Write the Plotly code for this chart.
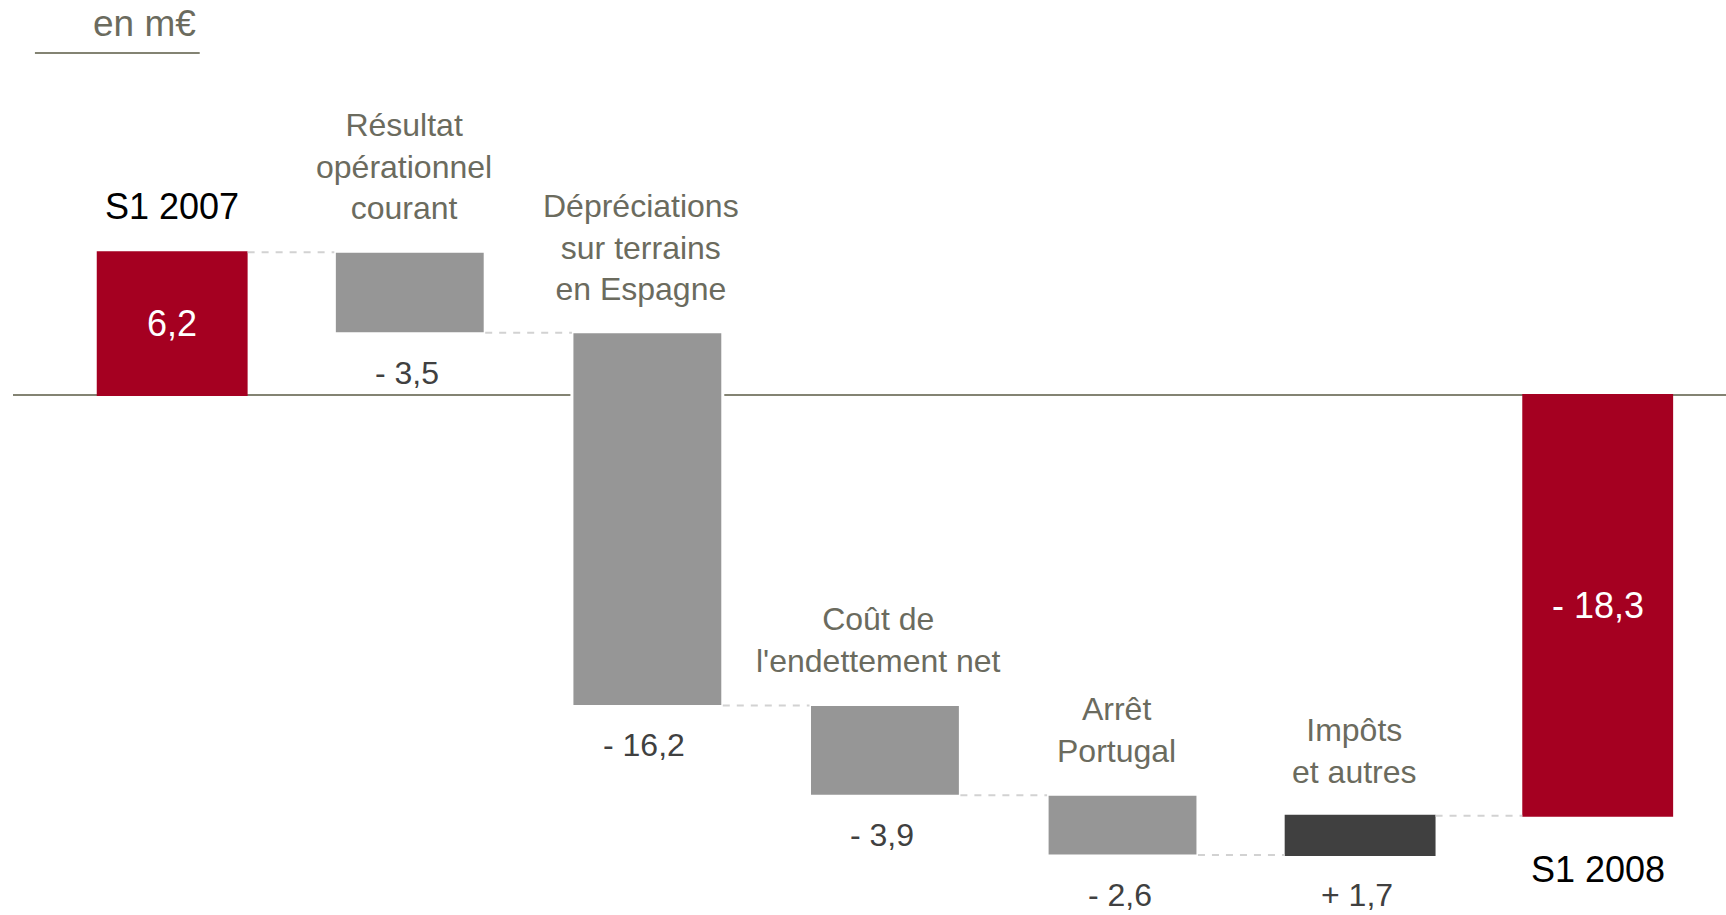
import numpy as np
import plotly.graph_objects as go

# ---- data ----
categories = ["S1 2007", "Résultat opérationnel courant", "Dépréciations sur terrains en Espagne",
              "Coût de l'endettement net", "Arrêt Portugal", "Impôts et autres", "S1 2008"]
cat_labels = ["S1 2007", "Résultat<br>opérationnel<br>courant", "Dépréciations<br>sur terrains<br>en Espagne",
              "Coût de<br>l'endettement net", "Arrêt<br>Portugal", "Impôts<br>et autres", "S1 2008"]
measures = ["absolute", "relative", "relative", "relative", "relative", "relative", "total"]
values = [6.2, -3.5, -16.2, -3.9, -2.6, 1.7, -18.3]
value_labels = ["6,2", "- 3,5", "- 16,2", "- 3,9", "- 2,6", "+ 1,7", "- 18,3"]

# ---- style ----
RED = "#A50021"
GREY = "#969696"
DARK = "#404040"
OLIVE = "#6B6B5E"
FONT = "Liberation Sans, Arial, sans-serif"

fig = go.Figure()
fig.add_trace(go.Waterfall(
    x=categories,
    y=[v if m != "total" else None for v, m in zip(values, measures)],
    measure=measures,
    width=0.635,
    increasing=dict(marker=dict(color=DARK)),
    decreasing=dict(marker=dict(color=GREY, line=dict(color="white", width=3))),
    totals=dict(marker=dict(color=RED)),
    connector=dict(mode="between", line=dict(color="#D2D2D2", width=2, dash="7px,7px")),
    textposition="none", hoverinfo="skip", showlegend=False,
))

# compute bar extents from the data
starts, ends = [], []
running = 0.0
for v, m in zip(values, measures):
    if m == "absolute":
        s, e = 0.0, v
        running = v
    elif m == "total":
        s, e = 0.0, running
    else:
        s, e = running, running + v
        running = e
    starts.append(s)
    ends.append(e)

annotations = []
for i, (cat, lab, s, e, m) in enumerate(zip(categories, cat_labels, starts, ends, measures)):
    top, bot = max(s, e), min(s, e)
    if m in ("absolute", "total"):
        annotations.append(dict(x=cat, y=(top + bot) / 2, text=value_labels[i], showarrow=False,
                                font=dict(family=FONT, size=36, color="white"),
                                xanchor="center", yanchor="middle"))
        if m == "absolute":
            annotations.append(dict(x=cat, y=top, text=lab, showarrow=False,
                                    font=dict(family=FONT, size=36, color="black"),
                                    xanchor="center", yanchor="bottom", yshift=23))
        else:
            annotations.append(dict(x=cat, y=bot, text=lab, showarrow=False,
                                    font=dict(family=FONT, size=36, color="black"),
                                    xanchor="center", yanchor="top", yshift=-31))
    else:
        annotations.append(dict(x=cat, y=top, text=lab, showarrow=False,
                                font=dict(family=FONT, size=32, color=OLIVE),
                                xanchor="center", yanchor="bottom", yshift=24, xshift=-6))
        annotations.append(dict(x=cat, y=bot, text=value_labels[i], showarrow=False,
                                font=dict(family=FONT, size=32, color=DARK),
                                xanchor="center", yanchor="top", yshift=-20, xshift=-3))

annotations.append(dict(xref="paper", yref="paper", x=0.108, y=0.974, text="en m€", showarrow=False,
                        font=dict(family=FONT, size=37, color=OLIVE), xanchor="right", yanchor="middle"))

fig.update_layout(
    width=1726, height=915,
    margin=dict(l=13, r=0, t=0, b=0),
    paper_bgcolor="white", plot_bgcolor="white",
    xaxis=dict(range=[-0.67, 6.54], visible=False),
    yaxis=dict(range=[-22.61, 17.17], showgrid=False, showticklabels=False, ticks="",
               zeroline=True, zerolinecolor="#838373", zerolinewidth=2),
    annotations=annotations,
    shapes=[dict(type="line", xref="paper", yref="paper", x0=0.0128, x1=0.109, y0=0.942, y1=0.942,
                 line=dict(color="#838373", width=2))],
    font=dict(family=FONT),
)

fig.write_html("out.html")
